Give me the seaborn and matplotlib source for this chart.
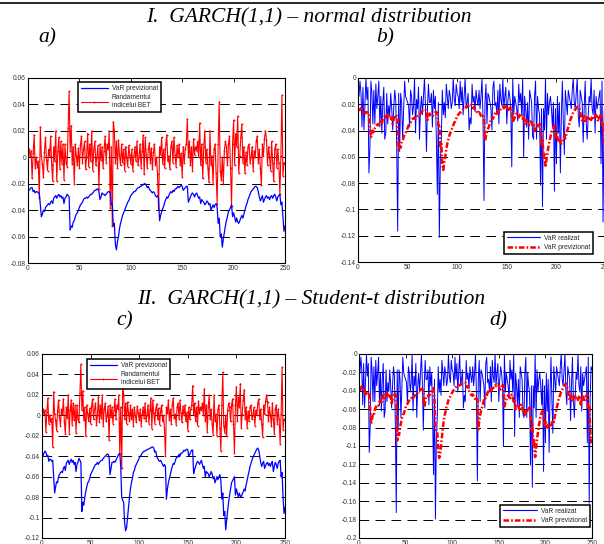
import matplotlib
matplotlib.use("Agg")
import matplotlib.pyplot as plt
import seaborn as sns
from matplotlib.lines import Line2D

# ---------------- data ----------------
days = list(range(1, 251))

returns = [
    0.006, 0.001, 0.005, -0.016, 0.003, 0.017, -0.008, 0.000, -0.007, -0.003,
    -0.031, 0.023, 0.001, -0.005, -0.015, 0.004, 0.015, -0.002, -0.010, 0.006,
    0.001, 0.016, -0.006, -0.018, 0.008, -0.003, 0.020, -0.018, 0.005, 0.015,
    -0.009, 0.012, -0.005, 0.010, -0.017, 0.010, -0.004, -0.007, 0.022, 0.050,
    0.005, 0.024, -0.005, 0.008, -0.020, 0.010, 0.001, -0.006, 0.007, -0.008,
    0.009, 0.016, -0.004, 0.006, 0.012, -0.009, 0.000, 0.018, -0.007, 0.010,
    -0.003, 0.020, -0.010, 0.006, 0.012, -0.006, 0.000, 0.009, -0.024, 0.010,
    -0.002, 0.008, -0.008, 0.005, 0.016, -0.004, 0.010, 0.006, 0.020, -0.038,
    0.008, -0.052, 0.027, 0.020, -0.004, 0.012, -0.008, 0.013, 0.002, -0.006,
    0.010, -0.004, 0.006, -0.010, 0.008, 0.000, -0.007, 0.009, 0.002, -0.005,
    0.006, -0.010, 0.001, 0.008, -0.003, 0.012, -0.006, 0.000, 0.010, -0.008,
    0.005, 0.017, -0.013, 0.015, 0.002, -0.008, 0.006, 0.011, -0.004, 0.007,
    -0.009, 0.004, 0.010, -0.006, 0.000, -0.013, -0.040, 0.008, 0.002, 0.015,
    -0.005, 0.006, -0.008, 0.010, 0.017, -0.003, 0.001, -0.009, 0.008, 0.012,
    -0.004, 0.015, 0.002, -0.007, 0.009, 0.000, 0.010, -0.006, 0.003, -0.015,
    0.008, -0.004, 0.006, 0.010, 0.029, 0.000, 0.012, -0.006, 0.008, -0.010,
    0.014, 0.002, 0.008, 0.005, 0.012, 0.000, 0.026, -0.006, 0.010, -0.016,
    0.008, 0.020, -0.004, 0.006, -0.008, -0.019, 0.020, -0.006, 0.001, -0.020,
    0.006, 0.010, -0.012, -0.035, 0.010, 0.042, -0.010, -0.017, 0.000, -0.020,
    0.005, 0.012, 0.008, -0.006, 0.010, 0.016, -0.008, -0.037, 0.010, 0.028,
    -0.006, 0.018, 0.008, 0.031, -0.012, 0.001, 0.015, 0.025, -0.004, 0.008,
    -0.012, 0.004, -0.006, 0.008, 0.010, -0.004, 0.000, 0.008, -0.010, 0.005,
    0.000, 0.012, 0.016, -0.004, 0.006, -0.008, -0.021, 0.010, 0.001, 0.014,
    0.020, 0.013, -0.006, 0.008, 0.000, -0.010, 0.012, -0.004, -0.018, 0.006,
    0.010, -0.008, 0.006, -0.004, -0.028, 0.001, 0.047, -0.014, -0.004, -0.005,
]

var_normal = [
    -0.025, -0.024, -0.023, -0.023, -0.026, -0.025, -0.027, -0.026, -0.026, -0.027,
    -0.027, -0.036, -0.045, -0.043, -0.040, -0.041, -0.038, -0.037, -0.036, -0.035,
    -0.036, -0.034, -0.033, -0.035, -0.031, -0.030, -0.029, -0.031, -0.029, -0.028,
    -0.030, -0.029, -0.031, -0.030, -0.035, -0.031, -0.030, -0.028, -0.029, -0.030,
    -0.055, -0.052, -0.053, -0.049, -0.048, -0.045, -0.043, -0.042, -0.040, -0.038,
    -0.036, -0.035, -0.034, -0.032, -0.031, -0.031, -0.030, -0.031, -0.030, -0.029,
    -0.028, -0.028, -0.027, -0.026, -0.025, -0.025, -0.024, -0.024, -0.026, -0.032,
    -0.030, -0.027, -0.028, -0.028, -0.029, -0.028, -0.027, -0.026, -0.026, -0.027,
    -0.036, -0.035, -0.052, -0.050, -0.066, -0.070, -0.064, -0.060, -0.054, -0.050,
    -0.047, -0.044, -0.042, -0.040, -0.038, -0.036, -0.034, -0.033, -0.031, -0.029,
    -0.028, -0.027, -0.026, -0.026, -0.025, -0.024, -0.023, -0.023, -0.022, -0.022,
    -0.021, -0.021, -0.020, -0.020, -0.021, -0.023, -0.022, -0.024, -0.025, -0.026,
    -0.027, -0.026, -0.027, -0.029, -0.030, -0.029, -0.031, -0.048, -0.044, -0.041,
    -0.039, -0.037, -0.034, -0.032, -0.030, -0.031, -0.029, -0.027, -0.026, -0.027,
    -0.025, -0.026, -0.024, -0.024, -0.023, -0.022, -0.023, -0.022, -0.021, -0.022,
    -0.025, -0.024, -0.023, -0.022, -0.022, -0.034, -0.032, -0.030, -0.028, -0.027,
    -0.028, -0.030, -0.028, -0.027, -0.029, -0.031, -0.030, -0.035, -0.032, -0.033,
    -0.034, -0.036, -0.035, -0.033, -0.034, -0.036, -0.035, -0.040, -0.038, -0.036,
    -0.038, -0.036, -0.035, -0.038, -0.050, -0.046, -0.060, -0.058, -0.068, -0.062,
    -0.057, -0.052, -0.048, -0.045, -0.041, -0.040, -0.038, -0.036, -0.045, -0.042,
    -0.045, -0.049, -0.046, -0.049, -0.050, -0.048, -0.046, -0.044, -0.046, -0.043,
    -0.040, -0.037, -0.035, -0.032, -0.030, -0.028, -0.026, -0.025, -0.024, -0.023,
    -0.022, -0.022, -0.023, -0.026, -0.030, -0.033, -0.031, -0.029, -0.034, -0.032,
    -0.030, -0.029, -0.031, -0.030, -0.032, -0.030, -0.029, -0.031, -0.029, -0.028,
    -0.030, -0.033, -0.030, -0.029, -0.028, -0.036, -0.034, -0.045, -0.056, -0.052,
]

var_student = [
    -0.040, -0.037, -0.035, -0.036, -0.040, -0.039, -0.045, -0.043, -0.043, -0.045,
    -0.044, -0.060, -0.076, -0.070, -0.065, -0.066, -0.060, -0.058, -0.056, -0.055,
    -0.056, -0.052, -0.050, -0.054, -0.047, -0.045, -0.044, -0.048, -0.045, -0.043,
    -0.046, -0.044, -0.048, -0.046, -0.055, -0.048, -0.046, -0.042, -0.044, -0.046,
    -0.094, -0.085, -0.088, -0.080, -0.075, -0.070, -0.066, -0.065, -0.062, -0.058,
    -0.056, -0.054, -0.052, -0.050, -0.048, -0.048, -0.046, -0.048, -0.046, -0.045,
    -0.044, -0.044, -0.042, -0.041, -0.040, -0.039, -0.038, -0.038, -0.041, -0.058,
    -0.052, -0.046, -0.046, -0.045, -0.046, -0.044, -0.042, -0.040, -0.038, -0.037,
    -0.050, -0.080, -0.083, -0.085, -0.105, -0.113, -0.110, -0.100, -0.090, -0.080,
    -0.072, -0.066, -0.062, -0.056, -0.054, -0.050, -0.048, -0.046, -0.044, -0.042,
    -0.040, -0.039, -0.037, -0.036, -0.035, -0.035, -0.034, -0.034, -0.033, -0.033,
    -0.032, -0.032, -0.031, -0.031, -0.032, -0.036, -0.035, -0.040, -0.042, -0.044,
    -0.045, -0.044, -0.046, -0.048, -0.050, -0.048, -0.050, -0.082, -0.072, -0.066,
    -0.062, -0.058, -0.054, -0.050, -0.047, -0.048, -0.045, -0.042, -0.040, -0.041,
    -0.038, -0.040, -0.037, -0.037, -0.036, -0.034, -0.035, -0.034, -0.033, -0.034,
    -0.040, -0.038, -0.036, -0.034, -0.034, -0.057, -0.053, -0.050, -0.047, -0.045,
    -0.046, -0.048, -0.046, -0.044, -0.048, -0.052, -0.050, -0.060, -0.055, -0.056,
    -0.057, -0.060, -0.058, -0.055, -0.057, -0.062, -0.060, -0.066, -0.063, -0.060,
    -0.063, -0.060, -0.058, -0.064, -0.082, -0.076, -0.098, -0.094, -0.112, -0.102,
    -0.093, -0.085, -0.078, -0.072, -0.066, -0.064, -0.062, -0.060, -0.078, -0.072,
    -0.076, -0.080, -0.076, -0.079, -0.080, -0.077, -0.075, -0.072, -0.074, -0.068,
    -0.064, -0.059, -0.055, -0.050, -0.047, -0.044, -0.041, -0.039, -0.037, -0.035,
    -0.033, -0.032, -0.034, -0.040, -0.046, -0.050, -0.047, -0.045, -0.052, -0.049,
    -0.047, -0.046, -0.049, -0.047, -0.050, -0.047, -0.045, -0.055, -0.050, -0.046,
    -0.048, -0.052, -0.047, -0.045, -0.044, -0.060, -0.056, -0.080, -0.096, -0.090,
]

# realized VaR = quantile x |return| (quantile ratios read from the spikes)
Q_NORMAL = 2.33
Q_STUDENT = 3.45
realized_normal = [-Q_NORMAL * abs(r) for r in returns]
realized_student = [-Q_STUDENT * abs(r) for r in returns]

ticks_a = [0.06, 0.04, 0.02, 0, -0.02, -0.04, -0.06, -0.08]
ticks_b = [0, -0.02, -0.04, -0.06, -0.08, -0.1, -0.12, -0.14]
ticks_c = [0.06, 0.04, 0.02, 0, -0.02, -0.04, -0.06, -0.08, -0.1, -0.12]
ticks_d = [0, -0.02, -0.04, -0.06, -0.08, -0.1, -0.12, -0.14, -0.16, -0.18, -0.2]
xticks = [0, 50, 100, 150, 200, 250]

title_1 = "I.  GARCH(1,1) \u2013 normal distribution"
title_2 = "II.  GARCH(1,1) \u2013 Student-t distribution"
lbl_var_prev = "VaR previzionat"
lbl_ret = "Randamentul\nindicelui BET"
lbl_var_real = "VaR realizat"

# ---------------- style ----------------
sns.set_theme(style="white")
plt.rcParams["font.family"] = ["Liberation Sans", "DejaVu Sans"]
plt.rcParams["lines.scale_dashes"] = False

W, H = 604, 544
fig = plt.figure(figsize=(W / 100, H / 100), dpi=100)
fig.patch.set_facecolor("white")


def add_ax(l, t, r, b):
    return fig.add_axes([l / W, 1 - b / H, (r - l) / W, (b - t) / H])


def fmt(v):
    return "%g" % round(v, 3)


def style(ax, yticks):
    ax.set_xlim(0, 250)
    ax.set_ylim(min(yticks), max(yticks))
    ax.set_xticks(xticks)
    ax.set_xticklabels([str(t) for t in xticks])
    ax.set_yticks(yticks)
    ax.set_yticklabels([fmt(t) for t in yticks])
    ax.tick_params(direction="in", length=3, width=0.6, top=True, right=True,
                   labelsize=4.8, labelcolor="#333333", color="black", pad=1.5)
    for s in ax.spines.values():
        s.set_color("black")
        s.set_linewidth(0.8)
        s.set_zorder(5)
    for y in yticks:
        if y not in (min(yticks), max(yticks)):
            ax.axhline(y, color="black", lw=0.7, ls=(0, (7, 4.5)), zorder=0.5)
    ax.set_facecolor("white")


def frame(leg):
    f = leg.get_frame()
    f.set_linewidth(1.1)
    f.set_edgecolor("black")
    f.set_alpha(1)


# ---------------- panel a ----------------
ax_a = add_ax(28, 78, 285, 263)
style(ax_a, ticks_a)
sns.lineplot(x=days, y=returns, ax=ax_a, color="red", lw=0.8, marker=".",
             markersize=2.6, markeredgewidth=0, estimator=None, zorder=2)
sns.lineplot(x=days, y=var_normal, ax=ax_a, color="blue", lw=0.9,
             estimator=None, zorder=3)
h_a = [Line2D([], [], color="blue", lw=0.9),
       Line2D([], [], color="red", lw=0.8, marker=".", markersize=2.6, markeredgewidth=0)]
leg = ax_a.legend(h_a, [lbl_var_prev, lbl_ret], loc="upper left",
                  bbox_to_anchor=(0.195, 0.978), borderaxespad=0, fontsize=4.8,
                  fancybox=False, framealpha=1, handlelength=4.0, numpoints=1,
                  borderpad=0.45, labelspacing=0.35, handletextpad=0.6)
for t in leg.get_texts():
    t.set_multialignment("center")
frame(leg)

# ---------------- panel b ----------------
ax_b = add_ax(358, 78, 606, 262)
style(ax_b, ticks_b)
sns.lineplot(x=days, y=realized_normal, ax=ax_b, color="blue", lw=0.7,
             estimator=None, zorder=2)
sns.lineplot(x=days, y=var_normal, ax=ax_b, color="red", lw=1.8,
             linestyle=(0, (4, 1.5, 1.2, 1.5)), estimator=None, zorder=3)
h_b = [Line2D([], [], color="blue", lw=0.8),
       Line2D([], [], color="red", lw=1.8, ls=(0, (4, 1.5, 1.2, 1.5)))]
leg = ax_b.legend(h_b, [lbl_var_real, lbl_var_prev], loc="lower right",
                  bbox_to_anchor=(0.948, 0.043), borderaxespad=0, fontsize=4.8,
                  fancybox=False, framealpha=1, handlelength=5.0,
                  borderpad=0.45, labelspacing=0.35, handletextpad=0.6)
frame(leg)

# ---------------- panel c ----------------
ax_c = add_ax(42, 354, 285, 538)
style(ax_c, ticks_c)
sns.lineplot(x=days, y=returns, ax=ax_c, color="red", lw=0.8, marker=".",
             markersize=2.6, markeredgewidth=0, estimator=None, zorder=2)
sns.lineplot(x=days, y=var_student, ax=ax_c, color="blue", lw=0.9,
             estimator=None, zorder=3)
leg = ax_c.legend(h_a, [lbl_var_prev, lbl_ret], loc="upper left",
                  bbox_to_anchor=(0.185, 0.973), borderaxespad=0, fontsize=4.8,
                  fancybox=False, framealpha=1, handlelength=4.0, numpoints=1,
                  borderpad=0.45, labelspacing=0.35, handletextpad=0.6)
for t in leg.get_texts():
    t.set_multialignment("center")
frame(leg)

# ---------------- panel d ----------------
ax_d = add_ax(359, 354, 592, 538)
style(ax_d, ticks_d)
sns.lineplot(x=days, y=realized_student, ax=ax_d, color="blue", lw=0.7,
             estimator=None, zorder=2)
sns.lineplot(x=days, y=var_student, ax=ax_d, color="red", lw=1.8,
             linestyle=(0, (4, 1.5, 1.2, 1.5)), estimator=None, zorder=3)
leg = ax_d.legend(h_b, [lbl_var_real, lbl_var_prev], loc="lower right",
                  bbox_to_anchor=(0.991, 0.06), borderaxespad=0, fontsize=4.8,
                  fancybox=False, framealpha=1, handlelength=5.0,
                  borderpad=0.45, labelspacing=0.35, handletextpad=0.6)
frame(leg)

# ---------------- titles ----------------
serif = dict(family=["Liberation Serif", "DejaVu Serif"], fontstyle="italic",
             ha="center", va="center", color="black")
fig.text(309 / W, 1 - 18 / H, title_1, size=15.5, **serif)
fig.text(47 / W, 1 - 38 / H, "a)", size=15.5, **serif)
fig.text(385 / W, 1 - 38 / H, "b)", size=15.5, **serif)
fig.text(311 / W, 1 - 300 / H, title_2, size=15.5, **serif)
fig.text(125 / W, 1 - 321 / H, "c)", size=15.5, **serif)
fig.text(498 / W, 1 - 321 / H, "d)", size=15.5, **serif)

fig.add_artist(Line2D([0, 1], [1 - 2.5 / H, 1 - 2.5 / H], color="black", lw=1.2))

fig.savefig("out.png", dpi=100)
